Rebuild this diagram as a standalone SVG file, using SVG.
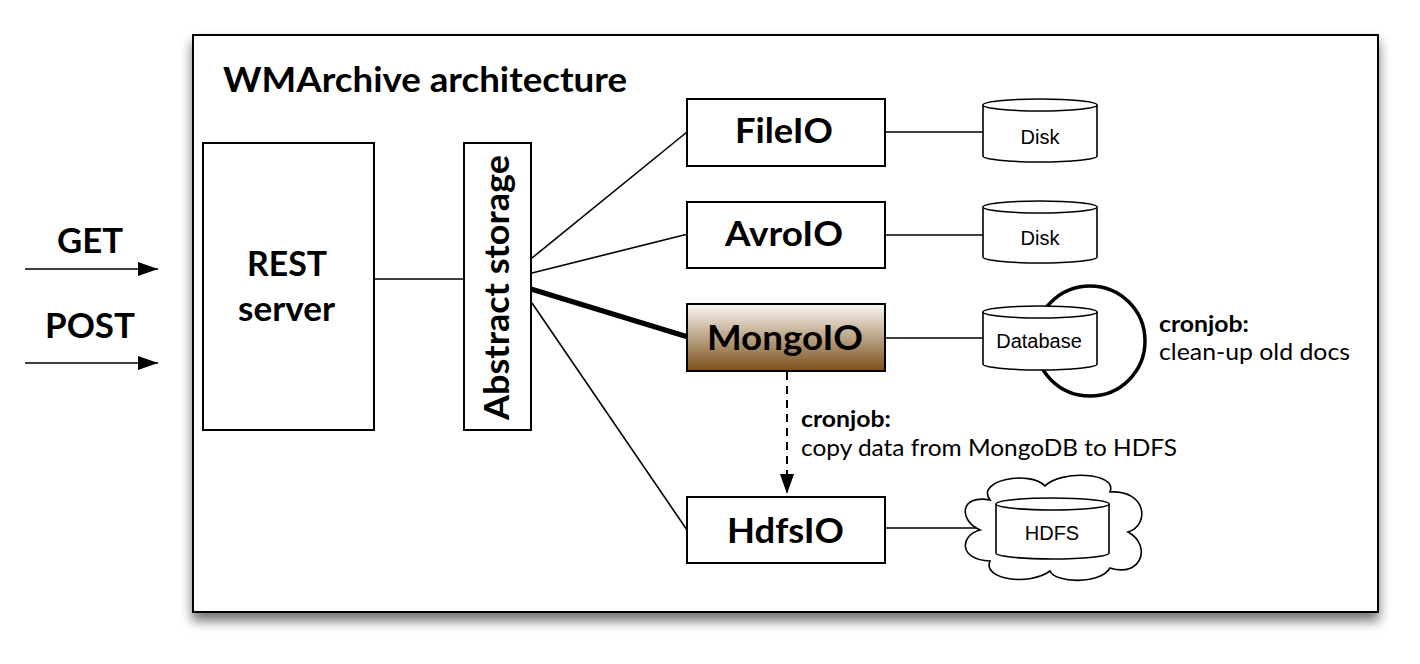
<svg xmlns="http://www.w3.org/2000/svg" width="1420" height="664" viewBox="0 0 1420 664">
<style>
.lbl{font-family:Lato,"Open Sans","Liberation Sans",sans-serif;font-weight:bold;font-size:35px;fill:#000}
.note{font-family:Lato,"Open Sans","Liberation Sans",sans-serif;font-size:23px;fill:#000}
.noteb{font-family:Lato,"Open Sans","Liberation Sans",sans-serif;font-weight:bold;font-size:23px;fill:#000}
.db{font-family:"Liberation Sans",Arial,sans-serif;font-size:20px;fill:#000;text-anchor:middle}
.box{fill:#fff;stroke:#000;stroke-width:2}
.cyl{fill:#fff;stroke:#000;stroke-width:1.6}
.ln{stroke:#000;stroke-width:1.6;fill:none}
</style>
<defs>
<filter id="sh" x="-5%" y="-5%" width="110%" height="120%">
<feDropShadow dx="0" dy="8" stdDeviation="6" flood-color="#000" flood-opacity="0.55"/>
</filter>
<linearGradient id="mg" x1="0" y1="0" x2="0" y2="1">
<stop offset="0" stop-color="#fbf8f4"/>
<stop offset="1" stop-color="#7a4f1a"/>
</linearGradient>
<marker id="ah" markerWidth="20" markerHeight="16" refX="20" refY="7" orient="auto" markerUnits="userSpaceOnUse">
<path d="M0,0 L20,7 L0,14 Z" fill="#000"/>
</marker>
</defs>
<rect width="1420" height="664" fill="#fff"/>
<rect id="frame" x="193" y="35" width="1185" height="577" fill="#fff" stroke="#000" stroke-width="2" filter="url(#sh)"/>
<text class="lbl" x="223" y="92" font-size="36" textLength="404" lengthAdjust="spacingAndGlyphs">WMArchive architecture</text>

<g id="get">
<text class="lbl" x="57" y="253" textLength="66" lengthAdjust="spacingAndGlyphs">GET</text>
</g>
<g id="post">
<text class="lbl" x="45" y="338" textLength="90" lengthAdjust="spacingAndGlyphs">POST</text>
</g>

<g id="connectors">
<line class="ln" x1="25" y1="269" x2="158" y2="269" marker-end="url(#ah)"/>
<line class="ln" x1="25" y1="363" x2="158" y2="363" marker-end="url(#ah)"/>
<line class="ln" x1="374" y1="279" x2="464" y2="279"/>
<line class="ln" x1="532" y1="258" x2="687" y2="132"/>
<line class="ln" x1="532" y1="273" x2="688" y2="234"/>
<line x1="531" y1="289" x2="688" y2="337" stroke="#000" stroke-width="5" stroke-linecap="round"/>
<line class="ln" x1="532" y1="303" x2="687" y2="530"/>
<line class="ln" x1="886" y1="132" x2="983" y2="132"/>
<line class="ln" x1="886" y1="235" x2="983" y2="235"/>
<line class="ln" x1="886" y1="338" x2="983" y2="338"/>
<line class="ln" x1="886" y1="528" x2="996" y2="528"/>
<line x1="787" y1="372" x2="787" y2="494" stroke="#000" stroke-width="2" stroke-dasharray="8,6" marker-end="url(#ah)"/>
<circle cx="1090" cy="341" r="55" fill="none" stroke="#000" stroke-width="3.5"/>
</g>

<g id="rest">
<rect class="box" x="203" y="143" width="171" height="287"/>
<text class="lbl" x="247" y="276" textLength="80" lengthAdjust="spacingAndGlyphs">REST</text>
<text class="lbl" x="238" y="321" textLength="97" lengthAdjust="spacingAndGlyphs">server</text>
</g>

<g id="abstract">
<rect class="box" x="464" y="143" width="67" height="287"/>
<text class="lbl" transform="translate(509,420) rotate(-90)" x="0" y="0" textLength="265" lengthAdjust="spacingAndGlyphs">Abstract storage</text>
</g>

<g id="fileio">
<rect class="box" x="687" y="99" width="198" height="67"/>
<text class="lbl" x="735" y="143" textLength="98" lengthAdjust="spacingAndGlyphs">FileIO</text>
</g>
<g id="avroio">
<rect class="box" x="687" y="202" width="198" height="66"/>
<text class="lbl" x="725" y="246" textLength="118" lengthAdjust="spacingAndGlyphs">AvroIO</text>
</g>
<g id="mongoio">
<rect x="687" y="304" width="198" height="67" fill="url(#mg)" stroke="#000" stroke-width="2"/>
<text class="lbl" x="707" y="350" textLength="156" lengthAdjust="spacingAndGlyphs">MongoIO</text>
</g>
<g id="hdfsio">
<rect class="box" x="687" y="497" width="198" height="66"/>
<text class="lbl" x="727" y="543" textLength="117" lengthAdjust="spacingAndGlyphs">HdfsIO</text>
</g>

<g id="disk1">
<path class="cyl" d="M983,105 L983,156 A57,6 0 0 0 1097,156 L1097,105"/>
<ellipse class="cyl" cx="1040" cy="105" rx="57" ry="6"/>
<text class="db" x="1040" y="144">Disk</text>
</g>
<g id="disk2">
<path class="cyl" d="M983,207 L983,257 A57,6 0 0 0 1097,257 L1097,207"/>
<ellipse class="cyl" cx="1040" cy="207" rx="57" ry="6"/>
<text class="db" x="1040" y="245">Disk</text>
</g>
<g id="database">
<path class="cyl" d="M983,312 L983,364 A57,6 0 0 0 1097,364 L1097,312"/>
<ellipse class="cyl" cx="1040" cy="312" rx="57" ry="6"/>
<text class="db" x="1039" y="348">Database</text>
</g>
<g id="hdfs">
<path class="cyl" d="M990,500 C975,480 1030,470 1045,486 C1060,470 1118,472 1110,492 C1147,490 1150,525 1128,532 C1152,545 1142,578 1110,568 C1100,585 1055,583 1050,571 C1030,586 982,580 990,561 C958,560 960,535 980,530 C958,520 960,494 990,500 Z"/>
<path class="cyl" d="M996,504 L996,553 A56.5,6 0 0 0 1109,553 L1109,504"/>
<ellipse class="cyl" cx="1052.5" cy="504" rx="56.5" ry="6"/>
<text class="db" x="1052" y="540">HDFS</text>
</g>

<g id="cron1">
<text class="noteb" x="801" y="427" textLength="90" lengthAdjust="spacingAndGlyphs">cronjob:</text>
<text class="note" x="801" y="456" textLength="376" lengthAdjust="spacingAndGlyphs">copy data from MongoDB to HDFS</text>
</g>
<g id="cron2">
<text class="noteb" x="1159" y="332" textLength="90" lengthAdjust="spacingAndGlyphs">cronjob:</text>
<text class="note" x="1159" y="360" textLength="191" lengthAdjust="spacingAndGlyphs">clean-up old docs</text>
</g>
</svg>
